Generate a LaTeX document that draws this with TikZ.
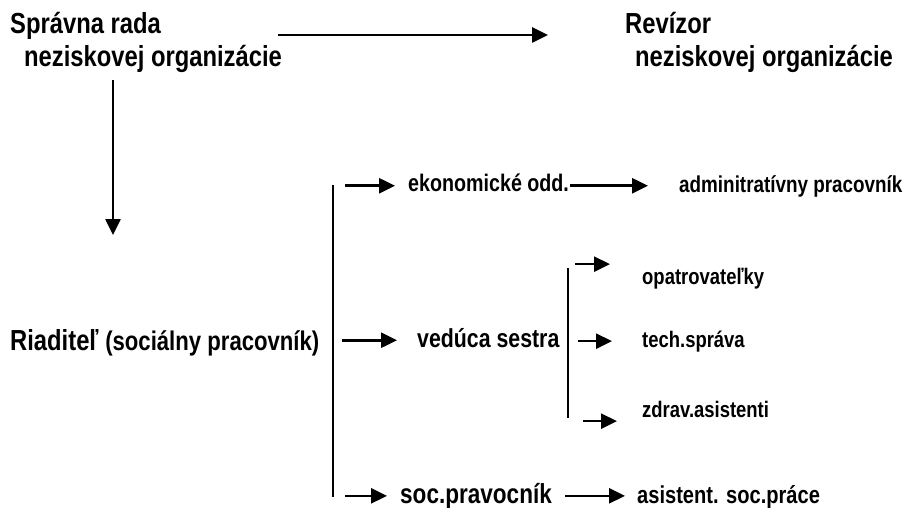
\documentclass[tikz,border=0pt]{standalone}
\usepackage{fontspec}
\newfontfamily\orgfont{Liberation Sans}[FakeStretch=0.82]
\usetikzlibrary{arrows.meta,calc}
\definecolor{OrgInk}{RGB}{0,0,0}
\tikzset{
  org/text/.style={
    font=\orgfont\bfseries\fontsize{#1}{#1}\selectfont,
    text=OrgInk,
    anchor=base west,
    inner sep=0pt,
    text height={0.72*#1pt},
    text depth={0.2*#1pt}
  },
  org/title/.style={org/text=29},
  org/head/.style={org/text=26},
  org/unit/.style={org/text=22.5},
  org/note/.style={org/text=23},
  org/arrow/.style={-{Triangle[length=16pt,width=15pt]}, line width=2.6pt, draw=OrgInk},
  org/bar/.style={line width=2.2pt, draw=OrgInk},
  org/thinbar/.style={line width=1.5pt, draw=OrgInk}
}

\begin{document}
\begin{tikzpicture}[x=1pt,y=-1pt]
  \useasboundingbox (0,0) rectangle (916,508);
  \node[org/title] (rada) at (10,34) {Správna rada};
  \node[org/title] (radaorg) at (24,67) {neziskovej organizácie};
  \node[org/title] (revizor) at (625,34) {Revízor};
  \node[org/title] (revizororg) at (635,67) {neziskovej organizácie};
  \node[org/title] (riaditel) at (10,350) {Riaditeľ {\fontsize{27}{27}\selectfont(sociálny pracovník)}};
  \node[org/unit, org/text=24] (ekon) at (408,192) {ekonomické odd.};
  \node[org/note] (admin) at (679,193) {adminitratívny pracovník};
  \node[org/head] (sestra) at (417,347) {vedúca sestra};
  \node[org/unit] (opatr) at (642,284) {opatrovateľky};
  \node[org/unit] (tech) at (642,347) {tech.správa};
  \node[org/unit] (zdrav) at (642,417) {zdrav.asistenti};
  \node[org/head, org/text=27.5] (soc) at (400,503) {soc.pravocník};
  \node[org/head, org/text=24.5] (asist) at (637,503) {asistent. soc.práce};

  \coordinate (boardout) at (278,35);
  \coordinate (radafoot) at (113,80);
  \coordinate (riadhead) at (113,235);
  \coordinate (trunktop) at (333,185);
  \coordinate (trunkbot) at (333,497);
  \coordinate (sestratop) at (568,268);
  \coordinate (sestrabot) at (568,418);

  \draw[org/arrow, shorten >=77pt] (boardout) -- (boardout -| revizor.west);
  \draw[org/arrow] (radafoot) -- (riadhead);
  \draw[org/bar] (trunktop) -- (trunkbot);
  \draw[org/arrow, shorten <=12pt, shorten >=13pt] (trunktop |- ekon.west) -- (ekon.west);
  \draw[org/arrow, shorten <=9pt, shorten >=20pt] (trunktop |- sestra.west) -- (sestra.west);
  \draw[org/arrow, shorten <=12pt, shorten >=13pt] (trunktop |- soc.west) -- (soc.west);
  \draw[org/arrow, shorten <=1pt, shorten >=31pt] (ekon.east) -- (ekon.east -| admin.west);
  \draw[org/arrow, shorten <=13pt, shorten >=12pt] (soc.east) -- (soc.east -| asist.west);
  \draw[org/thinbar] (sestratop) -- (sestrabot);
  \draw[org/arrow, shorten <=7pt, shorten >=32pt] ($(sestratop |- opatr.west)+(0,-14)$) -- ($(opatr.west)+(0,-14)$);
  \draw[org/arrow, shorten <=10pt, shorten >=30pt] (sestratop |- tech.west) -- (tech.west);
  \draw[org/arrow, shorten <=15pt, shorten >=25pt] ($(sestratop |- zdrav.west)+(0,10)$) -- ($(zdrav.west)+(0,10)$);
\end{tikzpicture}
\end{document}
